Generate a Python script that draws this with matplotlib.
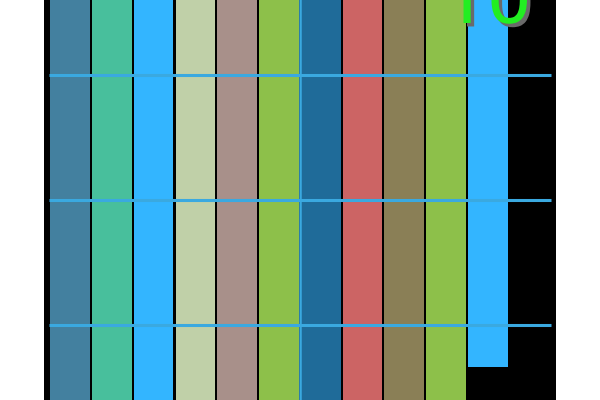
import matplotlib
matplotlib.use('Agg')
import matplotlib.pyplot as plt
import matplotlib.patheffects as pe

# bar values (y axis runs downward, bars hang from 0)
positions = list(range(12))
values = [80, 80, 80, 80, 80, 80, 80, 80, 80, 80, 66.7, 0]
colors = ['#43809f', '#48bf9c', '#33b5ff', '#c0d0a8', '#a8908a', '#8dc04a',
          '#1f6b99', '#cc6464', '#8a7f56', '#8dc04a', '#33b5ff', '#33b5ff']
grid_vals = [20, 40, 60]
label_text = '10'

fig = plt.figure(figsize=(6, 4), dpi=100)
ax = fig.add_axes([44/600, 0, 512/600, 1])
ax.set_facecolor('black')
ax.bar(positions, values, width=0.95, color=colors, zorder=1)
ax.hlines(grid_vals, -0.5, 11.5, color='#3aa9e0', lw=2.2, zorder=3)
ax.axvline(5.5, color='#3aa9e0', lw=1.8, zorder=3)
ax.set_xlim(-0.622, 11.63)
ax.set_ylim(72, 8)
for s in ax.spines.values():
    s.set_visible(False)
ax.set_xticks([])
ax.set_yticks([])

fig.text(487/600, 1 - 23/400, label_text, color='#22ee22', fontsize=57,
         family='Roboto', fontweight='normal', ha='center', va='baseline',
         path_effects=[pe.withSimplePatchShadow(offset=(2.5, -2.5), shadow_rgbFace='#6a6a6a', alpha=1)])

fig.savefig('out.png', dpi=100)
